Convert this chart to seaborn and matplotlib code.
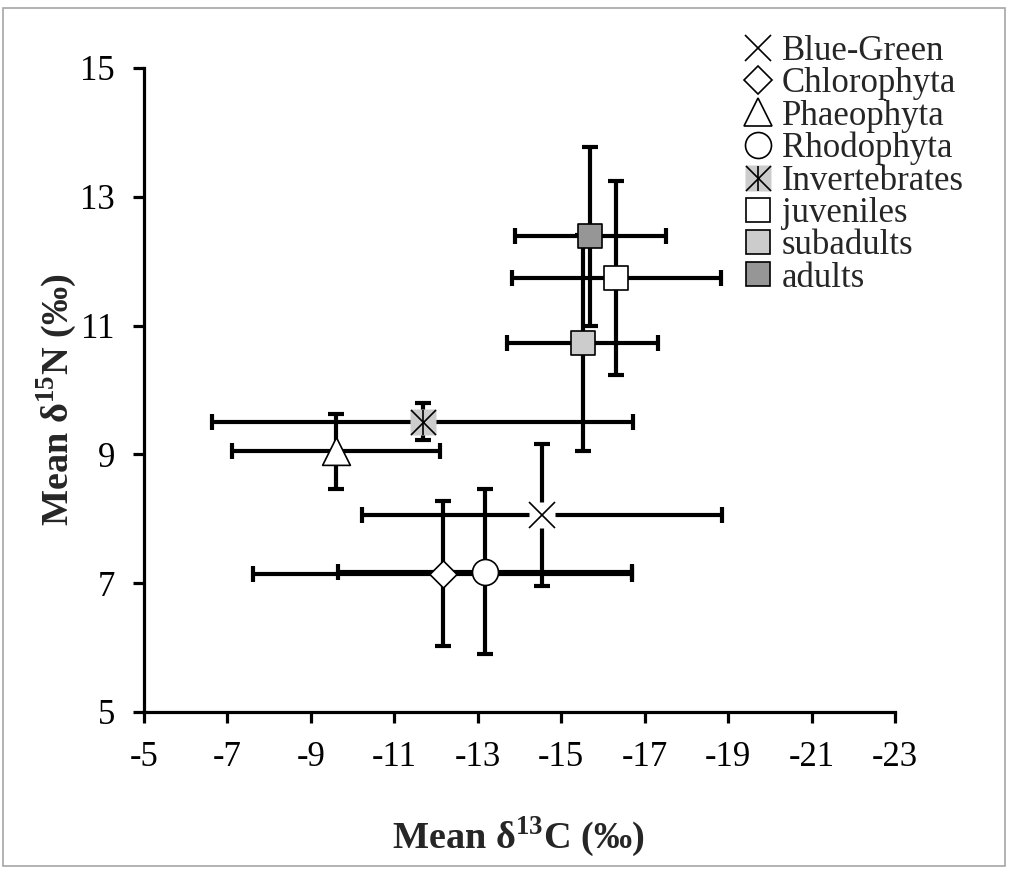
import numpy as np
import pandas as pd
import matplotlib
matplotlib.use('Agg')
import matplotlib.pyplot as plt
import matplotlib.lines as mlines
from matplotlib.patches import Rectangle
import seaborn as sns

# --- 1. Data ---

groups = ['Blue-Green', 'Chlorophyta', 'Phaeophyta', 'Rhodophyta',
          'Invertebrates', 'juveniles', 'subadults', 'adults']
mean_c13 = [-14.54, -12.16, -9.60, -13.18, -11.68, -16.32, -15.51, -15.70]
mean_n15 = [8.06, 7.15, 9.05, 7.18, 9.51, 11.74, 10.73, 12.39]
sd_c13 = [4.32, 4.54, 2.49, 3.52, 5.05, 2.50, 1.82, 1.81]
sd_n15 = [1.10, 1.12, 0.58, 1.28, 0.29, 1.51, 1.68, 1.39]

x_ticks = [-5, -7, -9, -11, -13, -15, -17, -19, -21, -23]
y_ticks = [5, 7, 9, 11, 13, 15]

df = pd.DataFrame({'group': groups, 'c13': mean_c13, 'n15': mean_n15,
                   'sd_c13': sd_c13, 'sd_n15': sd_n15})

# marker style per group: (marker, face colour, marker size in pt)
styles = {
    'Chlorophyta': ('D', 'white', 13.8),
    'Phaeophyta': ('^', 'white', 20.0),
    'Rhodophyta': ('o', 'white', 18.7),
    'juveniles': ('s', 'white', 17.5),
    'subadults': ('s', '#cccccc', 17.5),
    'adults': ('s', '#969696', 17.5),
}

# --- 2. Style ---

sns.set_theme(style='ticks')
plt.rcParams['font.family'] = ['Liberation Serif', 'DejaVu Serif']
plt.rcParams['mathtext.fontset'] = 'custom'
plt.rcParams['mathtext.rm'] = 'Liberation Serif'
plt.rcParams['mathtext.bf'] = 'Liberation Serif:bold'

fig = plt.figure(figsize=(10.15, 8.75), dpi=100)
ax = fig.add_axes([144 / 1015, 1 - 712 / 875, 751 / 1015, 644 / 875])

# --- 3. Error bars (drawn below the markers) ---

ax.errorbar(df['c13'], df['n15'], xerr=df['sd_c13'], yerr=df['sd_n15'],
            fmt='none', ecolor='black', elinewidth=3.0, capsize=6,
            capthick=3.0, zorder=2)

# --- 4. Markers ---

lw_edge = 1.2
handles = []
for _, row in df.iterrows():
    g = row['group']
    if g == 'Blue-Green':
        ax.plot(row['c13'], row['n15'], marker='s', ms=18.7, mfc='white',
                mec='none', ls='none', zorder=3)
        ax.plot(row['c13'], row['n15'], marker='x', ms=18.7, mec='black',
                mew=1.2, ls='none', zorder=4)
        h = (mlines.Line2D([], [], marker='s', ms=18.7, mfc='white', mec='none', ls='none'),
             mlines.Line2D([], [], marker='x', ms=18.7, mec='black', mew=1.2, ls='none'))
    elif g == 'Invertebrates':
        ax.plot(row['c13'], row['n15'], marker='s', ms=19.4, mfc='#cccccc',
                mec='none', ls='none', zorder=3)
        ax.plot(row['c13'], row['n15'], marker='x', ms=18, mec='black',
                mew=1.2, ls='none', zorder=4)
        ax.plot(row['c13'], row['n15'], marker='|', ms=18, mec='black',
                mew=1.2, ls='none', zorder=4)
        h = (mlines.Line2D([], [], marker='s', ms=19.4, mfc='#cccccc', mec='none', ls='none'),
             mlines.Line2D([], [], marker='x', ms=18, mec='black', mew=1.2, ls='none'),
             mlines.Line2D([], [], marker='|', ms=18, mec='black', mew=1.2, ls='none'))
    else:
        m, face, ms = styles[g]
        sns.scatterplot(x=[row['c13']], y=[row['n15']], marker=m, s=ms ** 2,
                        color=face, edgecolor='black', linewidth=lw_edge,
                        zorder=3, ax=ax, legend=False)
        h = mlines.Line2D([], [], marker=m, ms=ms, mfc=face, mec='black',
                          mew=lw_edge, ls='none')
    handles.append(h)

# --- 5. Axes ---

ax.set_xlim(-5, -23)
ax.set_ylim(5, 15)
ax.set_xticks(x_ticks)
ax.set_yticks(y_ticks)
ax.set_xticklabels([str(t) for t in x_ticks])
ax.tick_params(axis='both', labelsize=25, width=2.3, length=8, pad=13,
               color='black', labelcolor='black', direction='out')
for side in ['top', 'right']:
    ax.spines[side].set_visible(False)
for side in ['left', 'bottom']:
    ax.spines[side].set_linewidth(2.3)
    ax.spines[side].set_color('black')

ax.set_xlabel(r'Mean δ$^{\mathbf{13}}$C (‰)', fontsize=27.5, fontweight='bold')
ax.set_ylabel(r'Mean δ$^{\mathbf{15}}$N (‰)', fontsize=27.5, fontweight='bold')
ax.xaxis.set_label_coords(0.498, -0.16)
ax.yaxis.set_label_coords(-0.086, 0.484)

# --- 6. Legend ---

fig.legend(handles, groups, loc='upper left',
           bbox_to_anchor=(742 / 1015, 1 - 35 / 875),
           bbox_transform=fig.transFigure, frameon=False, fontsize=25,
           labelspacing=-0.02, handlelength=0.9, handletextpad=0.25,
           borderpad=0, borderaxespad=0)

# thin grey frame around the whole picture
fig.patches.append(Rectangle((3 / 1015, 1 - 866 / 875), 1002 / 1015, 858 / 875,
                             transform=fig.transFigure, fill=False,
                             edgecolor='#a6a6a6', linewidth=1.2))

plt.savefig('out.png', dpi=100)
